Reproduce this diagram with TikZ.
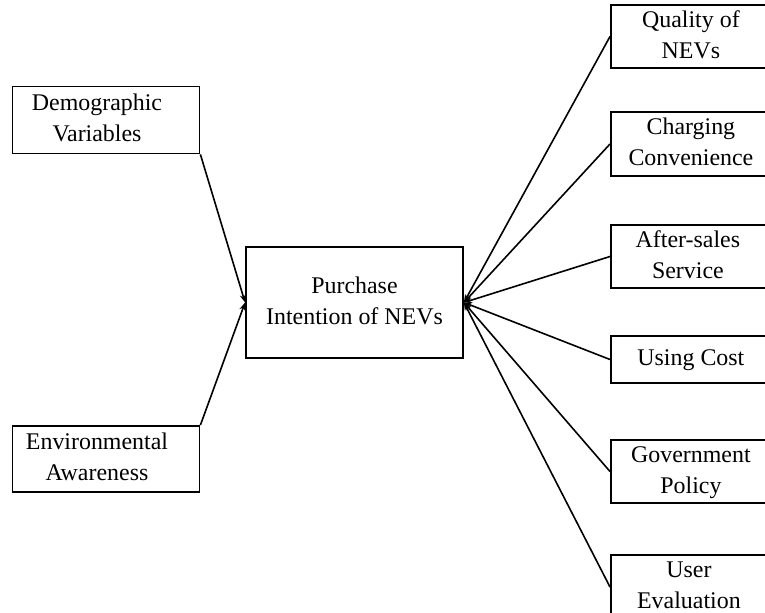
\documentclass[tikz,border=0pt]{standalone}
\usepackage{fontspec}
\setmainfont{Liberation Serif}
\usetikzlibrary{arrows.meta,positioning}
\newcommand{\boxtext}[2]{\begin{tabular}{@{}c@{}}#2\end{tabular}\hspace*{#1}}

\begin{document}
\begin{tikzpicture}[x=1bp,y=-1bp,
  box/.style={draw,line width=1.8bp,inner sep=0pt,font=\fontsize{24}{31.5}\selectfont},
  rbox/.style={box,anchor=west,minimum width=160bp},
  link/.style={line width=1.6bp,-{Stealth[length=8bp,width=6bp]}}]
\useasboundingbox (0,0) rectangle (765,613);
% left side
\node[box,minimum width=187bp,minimum height=67bp] (demo) at (106,120) {\boxtext{18bp}{Demographic\\Variables}};
\node[box,minimum width=187bp,minimum height=66bp] (env) at (106,459) {\boxtext{18bp}{Environmental\\Awareness}};
% centre
\node[box,minimum width=217bp,minimum height=111bp] (pi) at (354.5,302.5) {\boxtext{0bp}{Purchase\\Intention of NEVs}};
% right side
\node[rbox,minimum height=54bp] (qual) at (610,36.5) {\boxtext{0bp}{Quality of\\NEVs}};
\node[rbox,minimum height=64bp] (charg) at (610,144) {\boxtext{0bp}{Charging\\Convenience}};
\node[rbox,minimum height=63bp] (after) at (610,256.5) {\boxtext{6bp}{After-sales\\Service}};
\node[rbox,minimum height=47bp] (cost) at (610,359.5) {\boxtext{0bp}{Using Cost}};
\node[rbox,minimum height=62bp] (gov) at (610,471.5) {\boxtext{0bp}{Government\\Policy}};
\node[rbox,minimum height=64bp] (user) at (610,587) {\boxtext{4bp}{User\\Evaluation}};
% connectors
\draw[link] (demo.south east) -- (pi.west);
\draw[link] (env.north east) -- (pi.west);
\foreach \f in {qual,charg,after,cost,gov,user}
  \draw[link] (\f.west) -- (pi.east);
\end{tikzpicture}
\end{document}
